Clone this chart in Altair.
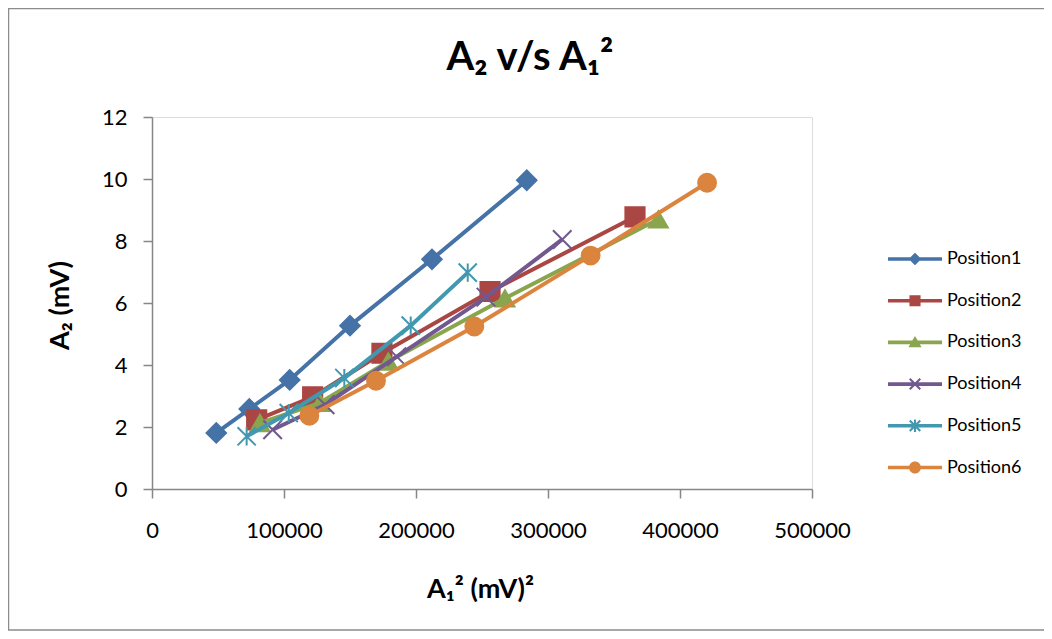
import altair as alt
import pandas as pd

series = ["Position1", "Position2", "Position3", "Position4", "Position5", "Position6"]
colors = ["#4572A7", "#AA4643", "#89A54E", "#71588F", "#4198AF", "#DB843D"]

p1_x = [48700, 73700, 104300, 150000, 212100, 283900]
p1_y = [1.81, 2.58, 3.52, 5.27, 7.41, 9.96]
p2_x = [79300, 121700, 174200, 256100, 365900]
p2_y = [2.23, 2.97, 4.38, 6.37, 8.78]
p3_x = [81800, 127300, 179000, 267400, 383600]
p3_y = [2.13, 2.78, 4.11, 6.15, 8.70]
p4_x = [91400, 131100, 185400, 253000, 310800]
p4_y = [1.91, 2.72, 4.27, 6.19, 8.05]
p5_x = [71700, 103600, 145700, 196000, 239200]
p5_y = [1.70, 2.45, 3.58, 5.27, 6.98]
p6_x = [119200, 169700, 244200, 332300, 420500]
p6_y = [2.36, 3.49, 5.24, 7.53, 9.88]

x_ticks = [0, 100000, 200000, 300000, 400000, 500000]
y_ticks = [0, 2, 4, 6, 8, 10, 12]

title_text = ["A₂ v/s A₁²"]

xs = [p1_x, p2_x, p3_x, p4_x, p5_x, p6_x]
ys = [p1_y, p2_y, p3_y, p4_y, p5_y, p6_y]
rows = []
for name, xv, yv in zip(series, xs, ys):
    for i, (a, b) in enumerate(zip(xv, yv)):
        rows.append({"series": name, "a1sq": a, "a2": b, "idx": i})
df = pd.DataFrame(rows)

# plot marker shapes
X_PATH = "M-1,-1L1,1M-1,1L1,-1"
STAR_PATH = "M-1,-1L1,1M-1,1L1,-1M0,-1L0,1"
plot_shapes = ["diamond", "square", "triangle-up", X_PATH, STAR_PATH, "circle"]
plot_sizes = [380, 320, 340, 340, 380, 400]

# legend symbols: line + marker (unit = 15px)
LINE = "M-1.8,-0.12H1.8V0.12H-1.8Z"
leg_shapes = [
    LINE + "M0,-0.42L0.42,0L0,0.42L-0.42,0Z",
    LINE + "M-0.37,-0.37H0.37V0.37H-0.37Z",
    LINE + "M0,-0.42L0.44,0.33L-0.44,0.33Z",
    LINE + "M-0.30,-0.40L0.40,0.30L0.30,0.40L-0.40,-0.30Z"
           "M-0.30,0.40L-0.40,0.30L0.30,-0.40L0.40,-0.30Z",
    LINE + "M-0.30,-0.40L0.40,0.30L0.30,0.40L-0.40,-0.30Z"
           "M-0.30,0.40L-0.40,0.30L0.30,-0.40L0.40,-0.30Z"
           "M-0.07,-0.42H0.07V0.42H-0.07Z",
    LINE + "M-0.4,0A0.4,0.4,0,1,1,0.4,0A0.4,0.4,0,1,1,-0.4,0Z",
]

W, H = 660, 372

xenc = alt.X(
    "a1sq:Q",
    scale=alt.Scale(domain=[0, 500000], nice=False),
    axis=alt.Axis(
        values=x_ticks, format="d", grid=False,
        title="A₁² (mV)²", titleFont="Lato", titleFontSize=27, titleFontWeight="bold",
        titleColor="black", titleX=328, titleY=108, titleBaseline="alphabetic",
        titleAlign="center",
        labelFont="Lato", labelFontSize=22, labelColor="black", labelPadding=22,
        labelFlush=False, labelOverlap=False,
        domainColor="#868686", domainWidth=1.5, tickColor="#868686", tickWidth=1.5, tickSize=9,
    ),
)
yenc = alt.Y(
    "a2:Q",
    scale=alt.Scale(domain=[0, 12], nice=False),
    axis=alt.Axis(
        values=y_ticks, grid=False,
        title="A₂ (mV)", titleFont="Lato", titleFontSize=27, titleFontWeight="bold",
        titleColor="black", titleX=-84, titleY=188, titleBaseline="alphabetic",
        titleAlign="center", titleAngle=-90,
        labelFont="Lato", labelFontSize=22, labelColor="black", labelPadding=16,
        labelFlush=False,
        domainColor="#868686", domainWidth=1.5, tickColor="#868686", tickWidth=1.5, tickSize=9,
    ),
)

cscale = alt.Scale(domain=series, range=colors)

layers = []
# border of the chart area
border = alt.Chart(pd.DataFrame({"k": [0]})).mark_rect(
    fill="white", fillOpacity=0, stroke="#8C8C8C", strokeWidth=1.5
).encode(x=alt.value(-143.5), x2=alt.value(1000), y=alt.value(-108.5), y2=alt.value(513))
layers.append(border)

title = alt.Chart(pd.DataFrame({"t": title_text})).mark_text(
    font="Lato", fontSize=40, fontWeight="bold", color="black",
    align="center", baseline="alphabetic",
).encode(text="t:N", x=alt.value(378), y=alt.value(-47))
layers.append(title)

for name in series:
    base = alt.Chart(df).transform_filter(alt.datum.series == name)
    line = base.mark_line(strokeWidth=4).encode(
        x=xenc, y=yenc, order="idx:Q",
        color=alt.Color("series:N", scale=cscale, legend=None),
    )
    pts = base.mark_point(filled=True, opacity=1, strokeWidth=2).encode(
        x=xenc, y=yenc,
        color=alt.Color("series:N", scale=cscale, legend=None),
        stroke=alt.Stroke("series:N", scale=cscale, legend=None),
        shape=alt.Shape("series:N", scale=alt.Scale(domain=series, range=plot_shapes), legend=None),
        size=alt.Size("series:N", scale=alt.Scale(domain=series, range=plot_sizes), legend=None),
    )
    layers += [line, pts]

leg_props = dict(
    orient="none", legendX=748, legendY=127, title=None, padding=0,
    labelFont="Lato", labelFontSize=18, labelColor="black", labelOffset=17,
    symbolSize=900, rowPadding=17.7, symbolStrokeWidth=0,
)
legend_layer = alt.Chart(df).transform_filter("false").mark_point(
    filled=True, opacity=1, size=900
).encode(
    x=xenc, y=yenc,
    color=alt.Color("series:N", scale=cscale, legend=alt.Legend(**leg_props)),
    shape=alt.Shape("series:N", scale=alt.Scale(domain=series, range=leg_shapes),
                    legend=alt.Legend(**leg_props)),
)
layers.append(legend_layer)

chart = alt.layer(*layers).resolve_scale(
    color="independent", shape="independent", size="independent", stroke="independent"
).properties(
    width=W, height=H,
    autosize=alt.AutoSizeParams(type="none"),
    padding={"left": 144, "top": 109, "right": 232, "bottom": 142},
).configure_view(stroke=None).configure(background="white")

chart.save("out.html", embed_options={"renderer": "svg", "actions": False})
